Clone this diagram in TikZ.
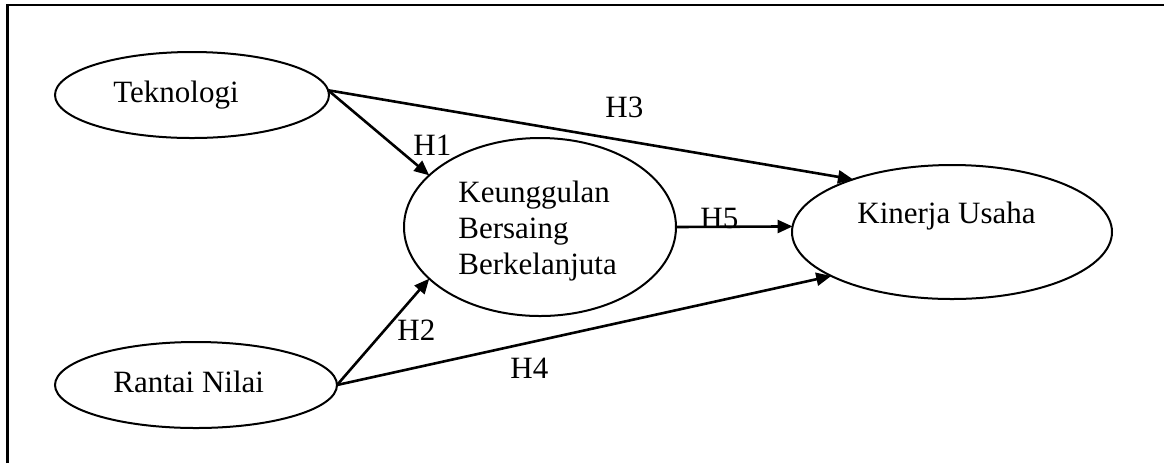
\documentclass[tikz,border=0pt]{standalone}
\usepackage{fontspec}
\setmainfont{Liberation Serif}
\usetikzlibrary{arrows.meta,shapes.geometric}
\begin{document}
\begin{tikzpicture}[x=0.5pt,y=-0.5pt,
  every node/.style={font=\fontsize{15.5}{18}\selectfont},
  oval/.style={draw, ellipse, line width=1pt, inner sep=0pt, outer sep=0pt},
  txt/.style={anchor=base west, inner sep=0pt},
  conn/.style={line width=1.3pt, -{Triangle[length=7.5pt,width=6.5pt]}}]
\useasboundingbox (0,0) rectangle (1164,463);
\draw[line width=1.1pt] (7.5,463) -- (7.5,5) -- (1164,5);
% ellipses
\node[oval, minimum width=137pt, minimum height=43pt] (tek) at (192,95) {};
\node[oval, minimum width=141pt, minimum height=43pt] (ran) at (196,385) {};
\node[oval, minimum width=136pt, minimum height=89pt] (keu) at (540,227) {};
\node[oval, minimum width=160pt, minimum height=67pt] (kin) at (952,232) {};
% texts
\node[txt] (tekT) at (113,102) {Teknologi};
\node[txt] (ranT) at (113,392) {Rantai Nilai};
\node[txt] (keuT) at (458,202) {\begin{tabular}[t]{@{}l@{}}Keunggulan\\Bersaing\\Berkelanjuta\end{tabular}};
\node[txt] (kinT) at (857,223) {Kinerja Usaha};
% connectors
\draw[conn] (tek.2) -- (keu.155);
\draw[conn] (tek.2) -- (kin.152.5);
\draw[conn] (ran.east) -- (keu.205.5);
\draw[conn] (ran.east) -- (kin.200.7);
\draw[conn] (keu.east) -- (kin.178);
% labels
\node[txt] (h1) at (413,155) {H1};
\node[txt] (h2) at (397,340) {H2};
\node[txt] (h3) at (605,117) {H3};
\node[txt] (h4) at (510,378) {H4};
\node[txt] (h5) at (700,228) {H5};
\end{tikzpicture}
\end{document}
